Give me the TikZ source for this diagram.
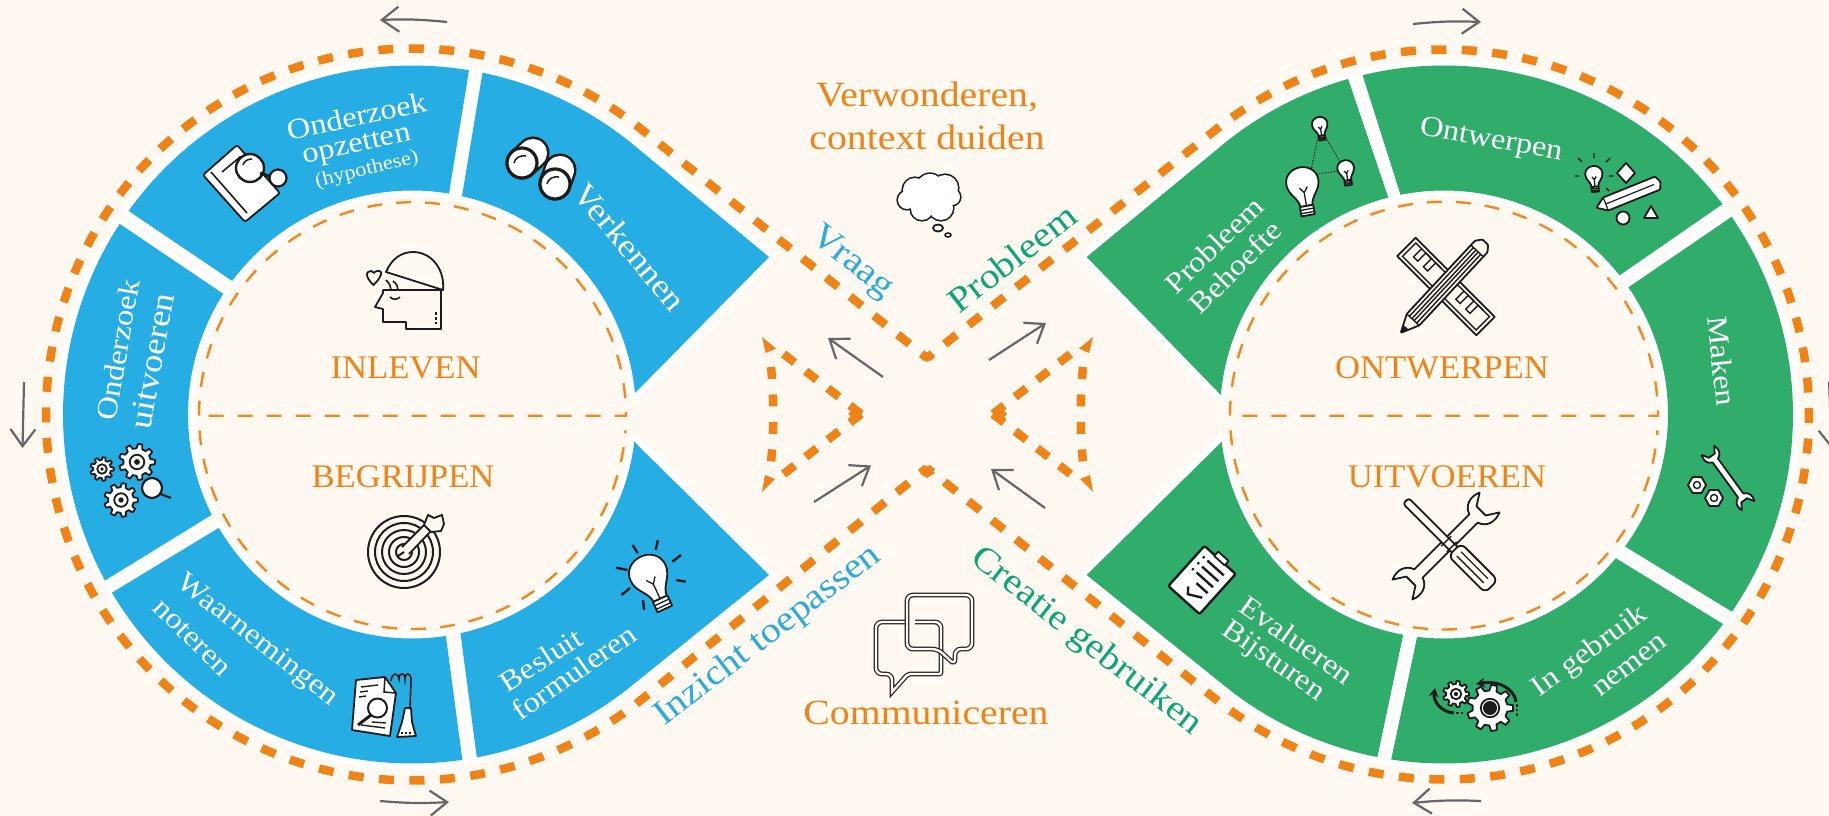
\documentclass[tikz,border=0pt]{standalone}
\usepackage{fontspec}
\setmainfont[FakeStretch=1.12]{Liberation Serif}
\newfontfamily\headf[FakeStretch=1.05]{Liberation Serif}
\usetikzlibrary{arrows.meta}
\definecolor{bgc}{HTML}{FFF9F2}
\definecolor{bl}{HTML}{25ADE4}
\definecolor{gr}{HTML}{30AD6A}
\definecolor{org}{HTML}{F08317}
\definecolor{ink}{HTML}{1C1C1C}
\definecolor{grya}{HTML}{666666}
\definecolor{bltxt}{HTML}{29ABE2}
\definecolor{grtxt}{HTML}{0BA678}
\newcommand{\seg}[8]{%
  \path[segm=#1] plot[domain=#4:#5,samples=70] ({#2+349*cos(\x)},{#3+349*sin(\x)}) #6
    -- plot[domain=#7:#8,samples=70] ({#2+224*cos(\x)},{#3+224*sin(\x)}) -- cycle;}
\tikzset{
  segm/.style={fill=#1,preaction={draw=white,line width=12,line join=round}},
  ordash/.style={draw=org,line width=8.5,dash pattern=on 15 off 15.5,dash phase=8},
  tridash/.style={draw=org,line width=8.5,dash pattern=on 14 off 14},
  sidedash/.style={draw=org,line width=8.5,dash pattern=on 12 off 15.5},
  thindash/.style={draw=org!95!white,line width=2.4,dash pattern=on 15 off 14},
  greyarrow/.style={draw=grya,line width=2.2,-{Straight Barb[length=17,width=25,line width=2.2]}},
  icon/.style={draw=ink,line width=1.8,line join=round,fill=white},
  iconbg/.style={draw=ink,line width=1.8,line join=round,fill=bgc},
  ringtxt/.style={text=white,inner sep=0,font=\fontsize{29}{31}\selectfont},
  bigring/.style={text=white,inner sep=0,font=\fontsize{32.5}{34}\selectfont},
  smalltxt/.style={text=white,inner sep=0,font=\fontsize{20}{22}\selectfont},
  heading/.style={text=org,inner sep=0,font=\headf\fontsize{33}{35}\selectfont},
  midtxt/.style={text=org,inner sep=0,font=\fontsize{35.5}{37}\selectfont},
  lanetxt/.style={inner sep=0,font=\fontsize{35.5}{37}\selectfont},
  gear/.pic={
    \draw[icon] (-12:9.5) \foreach \t in {0,40,...,320} {-- (\t-12:9.5) -- (\t-7:12.5) -- (\t+7:12.5) -- (\t+12:9.5)} -- cycle;
    \draw[icon] (0,0) circle[radius=5];
    \fill[ink] (0,0) circle[radius=2];},
  bulb/.pic={
    \draw[icon] (-4.5,15) .. controls (-5,8) and (-12,5) .. (-12,-3) .. controls (-12,-10) and (-6,-14) .. (0,-14) .. controls (6,-14) and (12,-10) .. (12,-3) .. controls (12,5) and (5,8) .. (4.5,15) -- cycle;
    \draw[draw=ink,line width=1.3] (-3,1) -- (0,5) -- (3,1) (0,5) -- (0,15);
    \draw[icon] (-5,15) rectangle (5,22);
    \draw[draw=ink,line width=1.3] (-5,17.5) -- (5,17.5) (-5,20) -- (5,20);},
  wrenchicon/.pic={
    \draw[draw=ink,line width=1.8,line join=round,fill=#1] (-36,-5.5) -- (36,-5.5) .. controls (39,-14) and (48,-17) .. (57,-13) -- (46,-6) -- (46,6) -- (57,13) .. controls (48,17) and (39,14) .. (36,5.5) -- (-36,5.5) .. controls (-39,14) and (-48,17) .. (-57,13) -- (-46,6) -- (-46,-6) -- (-57,-13) .. controls (-48,-17) and (-39,-14) .. (-36,-5.5) -- cycle;}
}
\begin{document}
\begin{tikzpicture}[x=1pt,y=-1pt]
\useasboundingbox (0,0) rectangle (1829,816);
\clip (0,0) rectangle (1829,816);
\fill[bgc] (0,0) rectangle (1829,816);

% ---- segments
\seg{bl}{412}{414.5}{-78.35}{-51}{-- (769,257)}{-5.5}{-77.1}
\seg{bl}{412}{414.5}{-80.6}{-144.3}{}{-143.4}{-80.5}
\seg{bl}{412}{414.5}{-146.9}{-208.4}{}{-206.6}{-147.4}
\seg{bl}{412}{414.5}{149.3}{81.7}{}{81.3}{149.6}
\seg{bl}{412}{414.5}{79.3}{51}{-- (769,575)}{7}{77.5}
\seg{gr}{1444}{414.5}{-105.95}{-129}{-- (1086.7,257)}{-175}{-104.4}
\seg{gr}{1444}{414.5}{-103.5}{-37.07}{}{-38.4}{-101.2}
\seg{gr}{1444}{414.5}{-34.5}{34.4}{}{36.1}{-34.6}
\seg{gr}{1444}{414.5}{36.9}{98.7}{}{96.9}{39.9}
\seg{gr}{1444}{414.5}{101}{129}{-- (1086.7,575)}{173}{100.5}

% ---- outer dashed lemniscate
\coordinate (apexT) at (927,358);
\coordinate (apexB) at (927,468);
\draw[ordash] (apexT) -- plot[domain=-51.2:-309,samples=200] ({412+366*cos(\x)},{414.5+366*sin(\x)}) -- (apexB);
\draw[ordash] (apexT) -- plot[domain=-128.4:128.4,samples=200] ({1444+365*cos(\x)},{414.5+365*sin(\x)}) -- (apexB);
\fill[org] (920,473) -- (927,465.5) -- (935,473) -- (927,478) -- cycle;
\fill[org] (920,355.3) -- (927,352) -- (935,355) -- (927,362) -- cycle;

% ---- middle triangles
\coordinate (tlA) at (783.6,354); \coordinate (tlB) at (861,414); \coordinate (tlC) at (783.6,474);
\draw[tridash] (tlB) -- (tlA);
\draw[tridash] (tlB) -- (tlC);
\draw[sidedash] (771,367) .. controls (774,395) and (774,435) .. (771,462);
\fill[org] (762,337) -- (776,348.5) -- (765.7,353) -- cycle;
\fill[org] (762,492) -- (775,479) -- (765,475) -- cycle;
\fill[org] (848,414) -- (855,407) -- (862,414) -- (855,421) -- cycle;
\coordinate (trA) at (1070.4,354); \coordinate (trB) at (993,414); \coordinate (trC) at (1070.4,474);
\draw[tridash] (trB) -- (trA);
\draw[tridash] (trB) -- (trC);
\draw[sidedash] (1083,367) .. controls (1080,395) and (1080,435) .. (1083,462);
\fill[org] (1093,337) -- (1079,348.5) -- (1089,353) -- cycle;
\fill[org] (1093,492) -- (1080,479) -- (1090,475) -- cycle;
\fill[org] (1007,414) -- (1000,407) -- (993,414) -- (1000,421) -- cycle;

% ---- inner dashed circles
\draw[thindash] (199,415.7) -- plot[domain=180:360,samples=120] ({412.5+213.5*cos(\x)},{415.7+213.5*sin(\x)}) -- cycle;
\draw[thindash] plot[domain=176:4,samples=120] ({412.5+213.5*cos(\x)},{415.5+213.5*sin(\x)});
\draw[thindash] (1230,415.7) -- plot[domain=180:360,samples=120] ({1444+214*cos(\x)},{415.7+214*sin(\x)}) -- cycle;
\draw[thindash] plot[domain=176:4,samples=120] ({1444+214*cos(\x)},{415.5+214*sin(\x)});

% ---- grey arrows
\coordinate (g1s) at (447,22); \coordinate (g1e) at (380,20);
\coordinate (g2s) at (1413,24); \coordinate (g2e) at (1481,22);
\coordinate (g3s) at (380,801); \coordinate (g3e) at (449,802);
\coordinate (g4s) at (1481,801); \coordinate (g4e) at (1412,803);
\coordinate (g5s) at (24,382); \coordinate (g5e) at (22.5,448);
\coordinate (g6s) at (1829,382); \coordinate (g6e) at (1832,449);
\draw[greyarrow] (g1s) to[bend right=4] (g1e);
\draw[greyarrow] (g2s) to[bend left=4] (g2e);
\draw[greyarrow] (g3s) to[bend right=4] (g3e);
\draw[greyarrow] (g4s) to[bend right=4] (g4e);
\draw[greyarrow] (g5s) -- (g5e);
\draw[greyarrow] (g6s) -- (g6e);
\coordinate (m1s) at (883,377); \coordinate (m1e) at (828,338);
\coordinate (m2s) at (989,360); \coordinate (m2e) at (1046,323);
\coordinate (m3s) at (814,502); \coordinate (m3e) at (871,465.5);
\coordinate (m4s) at (1045,508); \coordinate (m4e) at (991,469);
\draw[greyarrow] (m1s) -- (m1e);
\draw[greyarrow] (m2s) -- (m2e);
\draw[greyarrow] (m3s) -- (m3e);
\draw[greyarrow] (m4s) -- (m4e);

% ---- texts
\node[heading] (tInl) at (405.6,368) {INLEVEN};
\node[heading] (tBeg) at (403,477) {BEGRIJPEN};
\node[heading] (tOnt) at (1442,368) {ONTWERPEN};
\node[heading] (tUit) at (1447,477) {UITVOEREN};
\node[midtxt] (tVer) at (927,97) {Verwonderen,};
\node[midtxt] (tCon) at (927,137) {context duiden};
\node[midtxt] (tCom) at (926,713) {Communiceren};
\node[lanetxt,text=bltxt,rotate=-38] (tVra) at (852,263) {Vraag};
\node[lanetxt,text=grtxt,rotate=38] (tPro) at (1012,258) {Probleem};
\node[lanetxt,text=bltxt,rotate=37.5] (tInz) at (768,636) {Inzicht toepassen};
\node[lanetxt,text=grtxt,rotate=-38] (tCre) at (1086,642) {Creatie gebruiken};
\node[ringtxt,rotate=12] (s1a) at (357,116) {Onderzoek};
\node[ringtxt,rotate=12] (s1b) at (357,147) {opzetten};
\node[smalltxt,rotate=14] (s1c) at (367,170) {(hypothese)};
\node[bigring,rotate=-50] (s2) at (630,247) {Verkennen};
\node[ringtxt,rotate=80] (s3a) at (118,350) {Onderzoek};
\node[bigring,rotate=80] (s3b) at (152,361) {uitvoeren};
\node[ringtxt,rotate=-38] (s4a) at (257,641) {Waarnemingen};
\node[ringtxt,rotate=-45] (s4b) at (192,638) {noteren};
\node[ringtxt,rotate=33] (s5a) at (541,660) {Besluit};
\node[ringtxt,rotate=35] (s5b) at (574,672) {formuleren};
\node[ringtxt,rotate=44] (s6a) at (1214,245) {Probleem};
\node[ringtxt,rotate=45] (s6b) at (1235,267) {Behoefte};
\node[ringtxt,rotate=-10] (s7) at (1491,141) {Ontwerpen};
\node[ringtxt,rotate=-84] (s8) at (1722,361) {Maken};
\node[ringtxt,rotate=36] (s9a) at (1590,652) {In gebruik};
\node[ringtxt,rotate=38] (s9b) at (1630,666) {nemen};
\node[ringtxt,rotate=-35] (s10a) at (1297,640) {Evalueren};
\node[ringtxt,rotate=-35] (s10b) at (1273,662) {Bijsturen};

% ---- icon: head
\begin{scope}[draw=ink]
\draw[iconbg] (386,272) .. controls (392,258) and (402,252) .. (413,252) .. controls (432,252) and (445,270) .. (443,290) -- cycle;
\draw[iconbg] (383,290) -- (441,290) -- (441,329) -- (406,329) -- (406,322) -- (383,322) -- (383,309) -- (375,307) -- (383,293) -- cycle;
\draw[iconbg] (373.5,285) .. controls (368,280) and (365,274) .. (368,272) .. controls (370,270) and (373,271) .. (374,273) .. controls (375,271) and (379,270) .. (381,272) .. controls (382,275) and (378,281) .. (373.5,285) -- cycle;
\draw[line width=1.6] (386,280) .. controls (390,284) and (391,287) .. (391,290) (393,281) .. controls (397,284) and (398,287) .. (398,290);
\draw[line width=1.6] (390,297) .. controls (393,300) and (397,300) .. (400,297);
\draw[line width=1.6,dash pattern=on 2.5 off 2.5] (436,312) -- (436,324);
\end{scope}

% ---- icon: target
\foreach \r in {36,29,22,15,8} {\draw[draw=ink,line width=2] (404,552) circle[radius=\r];}
\draw[bgc,line width=11] (404,552) -- (432,523);
\draw[draw=ink,line width=1.8] (402,547) -- (425,524) (409,554) -- (431,531);
\draw[iconbg] (424,525) -- (428,515) -- (434,518) -- (442,515) -- (444,524) -- (441,531) -- (431,532) -- cycle;
\draw[draw=ink,line width=2] (398,556) -- (404,552);

% ---- icon: ruler + pencil
\begin{scope}[shift={(1446,286.5)},rotate=-45]
\draw[iconbg] (-56,-13) rectangle (56,13);
\draw[draw=ink,line width=1.4] (-52,-9.5) rectangle (52,9.5);
\draw[draw=ink,line width=1.4] (-44,-9.5) |- (-38,2) |- (-30,-9.5) |- (-24,2) |- (-16,-9.5);
\draw[draw=ink,line width=1.4] (16,-9.5) |- (22,2) |- (30,-9.5) |- (36,2) |- (44,-9.5);
\end{scope}
\begin{scope}[shift={(1443,287.5)},rotate=47]
\draw[iconbg,rounded corners=1] (-44,-8.5) -- (56,-8.5) -- (62,-4) -- (62,4) -- (56,8.5) -- (-44,8.5) -- (-62,0) -- cycle;
\draw[draw=ink,line width=1.4] (-44,-5) -- (50,-5) (-44,-1.5) -- (50,-1.5) (-44,1.5) -- (50,1.5) (-44,5) -- (50,5) (-44,-8.5) -- (-44,8.5) (50,-8.5) -- (50,8.5) (-55,-3.5) -- (-55,3.5);
\fill[ink] (-62,0) -- (-55,-3.5) -- (-55,3.5) -- cycle;
\end{scope}

% ---- icon: wrench + screwdriver
\pic at (1446,546) [rotate=45,scale=1.08] {wrenchicon=bgc};
\begin{scope}[shift={(1449,544)},rotate=-45]
\draw[iconbg,rounded corners=3] (-61,-4) -- (12,-4) -- (12,4) -- (-61,4) -- cycle;
\draw[iconbg,rounded corners=6] (8,-9) rectangle (60,9);
\draw[draw=ink,line width=1.4] (14,-3) -- (52,-3) (14,3) -- (52,3) (-4,-7) -- (-4,7) (4,-7) -- (4,7);
\end{scope}

% ---- icon: cloud
\foreach \a/\b/\r in {915/190/12,930/188/14,945/188/13,952/197/8,941/208/12,922/209/11,907/200/9,928/200/15} {\draw[draw=ink,line width=3.2] (\a,\b) circle[radius=\r];}
\foreach \a/\b/\r in {915/190/12,930/188/14,945/188/13,952/197/8,941/208/12,922/209/11,907/200/9,928/200/15} {\fill[white] (\a,\b) circle[radius=\r];}
\draw[draw=ink,line width=1.8,fill=white] (938,228) ellipse[x radius=5,y radius=3.5];
\draw[draw=ink,line width=1.5,fill=white] (948,235) ellipse[x radius=3,y radius=2];

% ---- icon: chat bubbles
\draw[draw=ink,line width=1.2,double=bgc,double distance=2.4,rounded corners=6] (905,622) -- (876,622) -- (876,674) -- (892,674) -- (892,692) [sharp corners] -- (892,692) [rounded corners=2] -- (908,674) -- (941,674) [rounded corners=6] -- (941,622) -- (915,622);
\draw[draw=ink,line width=1.2,double=bgc,double distance=2.4,rounded corners=6] (907,595) -- (972,595) -- (972,649) -- (955,649) -- (955,665) -- (938,649) -- (907,649) -- cycle;

% ---- icon: notebook + magnifier
\draw[icon,rounded corners=2.5] (203,175) -- (237,145) -- (280,193) -- (245,222) -- cycle;
\draw[draw=ink,line width=1.6] (211,172) -- (247,213) (222,172) -- (240,157) -- (255,175);
\draw[icon,line width=2.4] (250,168) circle[radius=14];
\draw[draw=ink,line width=1.5] (243,165) .. controls (244,161) and (248,159) .. (252,159);
\draw[draw=ink,line width=3] (260,173) -- (272,177);
\draw[icon,line width=2.2] (278,178) circle[radius=8.5];

% ---- icon: binoculars
\draw[draw=ink,line width=33,line cap=round] (522,163) -- (533,153);
\draw[draw=ink,line width=33,line cap=round] (555,184) -- (560,170);
\draw[white,line width=28,line cap=round] (522,163) -- (533,153);
\draw[white,line width=28,line cap=round] (555,184) -- (560,170);
\draw[draw=ink,line width=3.2,fill=white] (522,163) circle[radius=15];
\draw[draw=ink,line width=3.2,fill=white] (555,184) circle[radius=15];
\draw[draw=ink,line width=1.5] (514,163) .. controls (515,158) and (520,155) .. (526,156);
\draw[draw=ink,line width=1.5] (547,184) .. controls (548,179) and (553,176) .. (559,177);

% ---- icon: gears + magnifier
\pic[scale=.95] at (102,469) {gear};
\pic[scale=1.45] at (137,462) {gear};
\pic[scale=1.35] at (121,500) {gear};
\draw[draw=ink,line width=2.2] (158,493) -- (171,498);
\draw[icon,line width=2.2] (152,488) circle[radius=10];

% ---- icon: document + flask
\draw[icon] (356,680) -- (385,677) -- (396,693) -- (390,736) -- (352,730) -- cycle;
\draw[draw=ink,line width=1.5] (385,677) -- (384,692) -- (396,693);
\draw[draw=ink,line width=1.4] (361,687) -- (378,685) (360,692) -- (368,691) (359,697) -- (366,696) (361,725) -- (385,728) (372,722) -- (386,723);
\draw[icon,line width=2] (377.5,708) circle[radius=9.5];
\draw[draw=ink,line width=3] (371,715) -- (358,725);
\draw[draw=ink,line width=1.6] (411,680) -- (410,708) (391,681) .. controls (392,672) and (398,672) .. (399,679) .. controls (399,672) and (405,672) .. (405,679) .. controls (405,672) and (411,672) .. (411,680);
\draw[icon] (405,708) -- (411,708) -- (412,722) -- (416,736) -- (397,737) -- (402,722) -- cycle;
\draw[draw=ink,line width=1.5,dash pattern=on 2 off 2] (401,733) -- (413,733);

% ---- icon: bulb with rays
\pic[scale=1.6,rotate=25] at (650,577) {bulb};
\draw[draw=ink,line width=2.4] (632.6,545) -- (637.8,553.3) (658,540) -- (655.6,550) (681,555) -- (672.4,561.7) (686,581.7) -- (676,580) (643,600) -- (644,610) (630,588) -- (621.4,595) (616,567.7) -- (627.5,570);

% ---- icon: three bulbs
\draw[draw=ink,line width=1,dash pattern=on 1.5 off 1.5] (1320,128) -- (1310,175) -- (1345,170) -- cycle;
\pic[scale=1.35,rotate=10] at (1303,186) {bulb};
\pic[scale=.65,rotate=10] at (1320,126) {bulb};
\pic[scale=.7,rotate=10] at (1346,170) {bulb};

% ---- icon: design tools
\pic[scale=.72,rotate=5] at (1594,176) {bulb};
\draw[draw=ink,line width=1.4] (1594,158) -- (1594,153) (1606,162) -- (1610,158) (1582,162) -- (1578,158) (1609,176) -- (1613,176) (1579,176) -- (1575,176) (1606,188) -- (1609,191);
\draw[icon] (1626,163) -- (1635,173) -- (1626,183) -- (1617,173) -- cycle;
\begin{scope}[shift={(1628,195)},rotate=22]
\draw[icon,rounded corners=1] (-24,-7) -- (32,-7) -- (35,0) -- (32,7) -- (-24,7) -- (-34,0) -- cycle;
\draw[draw=ink,line width=1.2] (-24,-7) -- (-24,7) (-24,0) -- (28,0);
\end{scope}
\draw[icon] (1623,218) circle[radius=6.5];
\draw[icon] (1651,206) -- (1658,218) -- (1644,218) -- cycle;

% ---- icon: wrench + nuts
\pic at (1728,478) [rotate=-54,scale=.6] {wrenchicon=white};
\foreach \a/\b in {1697/485,1714/498} {
  \draw[icon] (\a+9,\b) -- (\a+4.5,\b+8) -- (\a-4.5,\b+8) -- (\a-9,\b) -- (\a-4.5,\b-8) -- (\a+4.5,\b-8) -- cycle;
  \draw[draw=ink,line width=1.4] (\a,\b) circle[radius=3.5];}

% ---- icon: gears with arrows
\pic[scale=1.85] at (1490,708) {gear};
\pic[scale=1.05] at (1456,694) {gear};
\fill[ink] (1490,708) circle[radius=7];
\draw[draw=ink,line width=3,-{Stealth[length=9,width=10]}] (1516,702) .. controls (1515,690) and (1500,680) .. (1476,684);
\draw[draw=ink,line width=2.4,dash pattern=on 2.5 off 2] (1517,704) -- (1517,716);
\draw[draw=ink,line width=3,-{Stealth[length=9,width=10]}] (1454,713) .. controls (1440,712) and (1433,700) .. (1435,688);
\draw[draw=ink,line width=2.4,dash pattern=on 2.5 off 2] (1456,713) -- (1464,713);

% ---- icon: clipboard
\begin{scope}[shift={(1202,580)},rotate=-42]
\draw[icon,line width=2.4,rounded corners=2] (-21,-27) rectangle (21,27);
\draw[icon] (-7,-32) -- (7,-32) -- (7,-26) -- (-7,-26) -- cycle;
\draw[draw=ink,line width=2.4] (-9,-18) -- (13,-18) (-9,-10) -- (13,-10) (-9,-2) -- (13,-2) (-2,6) -- (13,6) (-15,-18) -- (-13,-18) (-15,-10) -- (-13,-10) (-15,-2) -- (-13,-2);
\draw[draw=ink,line width=2.4] (-6,14) -- (-1,20) -- (12,13);
\end{scope}
\end{tikzpicture}
\end{document}
